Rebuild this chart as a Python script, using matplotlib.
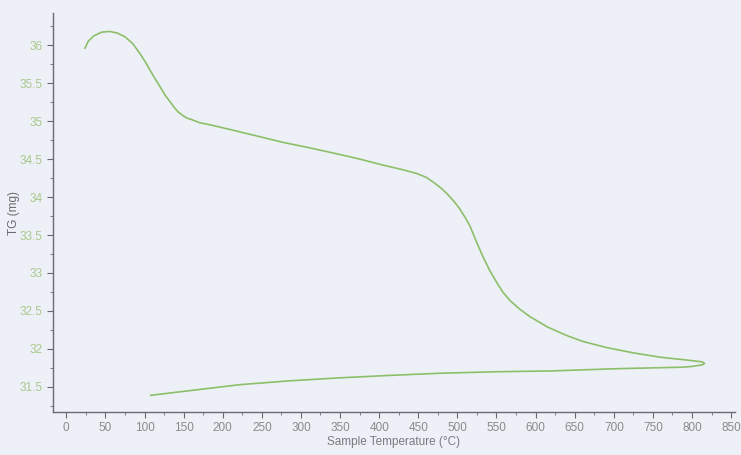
import matplotlib.pyplot as plt
import matplotlib.font_manager as fm
from matplotlib.ticker import MultipleLocator

# TG curve: heating branch then the cooling branch back
temp_c = [24, 28, 35, 45, 55, 65, 75, 85, 94, 101, 107, 114, 120, 127, 133,
          138, 143, 148, 154, 160, 170, 184, 213, 245, 277, 310, 341, 375, 405,
          430, 448, 460, 470, 480, 488, 495, 502, 510, 516, 524, 532, 541,
          550, 558, 567, 579, 592, 615, 639, 660, 690, 724, 760, 788, 805,
          813, 816, 813, 800, 788, 703, 618, 550, 477, 410, 350, 285, 222,
          165, 108]
tg_mg = [35.96, 36.05, 36.12, 36.17, 36.18, 36.16, 36.11, 36.02, 35.89,
         35.78, 35.67, 35.55, 35.45, 35.33, 35.25,
         35.18, 35.12, 35.08, 35.04, 35.02, 34.98, 34.95, 34.88, 34.80,
         34.72, 34.65, 34.58, 34.50,
         34.42, 34.36, 34.31, 34.26, 34.19, 34.11, 34.03, 33.95, 33.86,
         33.73, 33.62, 33.42, 33.23, 33.04, 32.88, 32.75, 32.64, 32.53,
         32.43, 32.29, 32.18, 32.10, 32.02, 31.95, 31.89, 31.86, 31.84,
         31.83, 31.81, 31.79, 31.77, 31.76, 31.74, 31.71, 31.70, 31.68,
         31.65, 31.62, 31.58, 31.53, 31.46, 31.39]

x_ticks = list(range(0, 851, 50))
y_ticks = [31.5, 32, 32.5, 33, 33.5, 34, 34.5, 35, 35.5, 36]

names = {f.name for f in fm.fontManager.ttflist}
font = 'Liberation Sans Narrow' if 'Liberation Sans Narrow' in names else 'Liberation Sans'
plt.rcParams['font.family'] = [font, 'DejaVu Sans']

bg = '#eef0f7'
fig = plt.figure(figsize=(7.41, 4.55), dpi=100, facecolor=bg)
ax = fig.add_axes([0.0715, 0.0945, 0.9205, 0.8765], facecolor=bg)

ax.plot(temp_c, tg_mg, color='#8cbf6a', lw=1.2, solid_joinstyle='round')

ax.set_xlim(-17, 855)
ax.set_ylim(31.17, 36.42)
ax.set_xticks(x_ticks)
ax.set_yticks(y_ticks)
ax.set_yticklabels([f'{v:g}' for v in y_ticks])
ax.xaxis.set_minor_locator(MultipleLocator(25))
ax.yaxis.set_minor_locator(MultipleLocator(0.25))

for s in ['top', 'right']:
    ax.spines[s].set_visible(False)
for s in ['left', 'bottom']:
    ax.spines[s].set_color('#6a6a70')
    ax.spines[s].set_linewidth(1.0)

ax.tick_params(axis='both', which='major', length=4, color='#6a6a70',
               labelsize=8.5)
ax.tick_params(axis='both', which='minor', length=2, color='#6a6a70')
ax.tick_params(axis='x', labelcolor='#8a8a8a')
ax.tick_params(axis='y', labelcolor='#a8c88c')

ax.set_xlabel('Sample Temperature (°C)', color='#7a7a80', fontsize=8.5)
ax.xaxis.set_label_coords(0.5, -0.06)
ax.set_ylabel('TG (mg)', color='#6a6a70', fontsize=8.5)
ax.yaxis.set_label_coords(-0.048, 0.5)

fig.savefig('out.png', dpi=100, facecolor=bg)
